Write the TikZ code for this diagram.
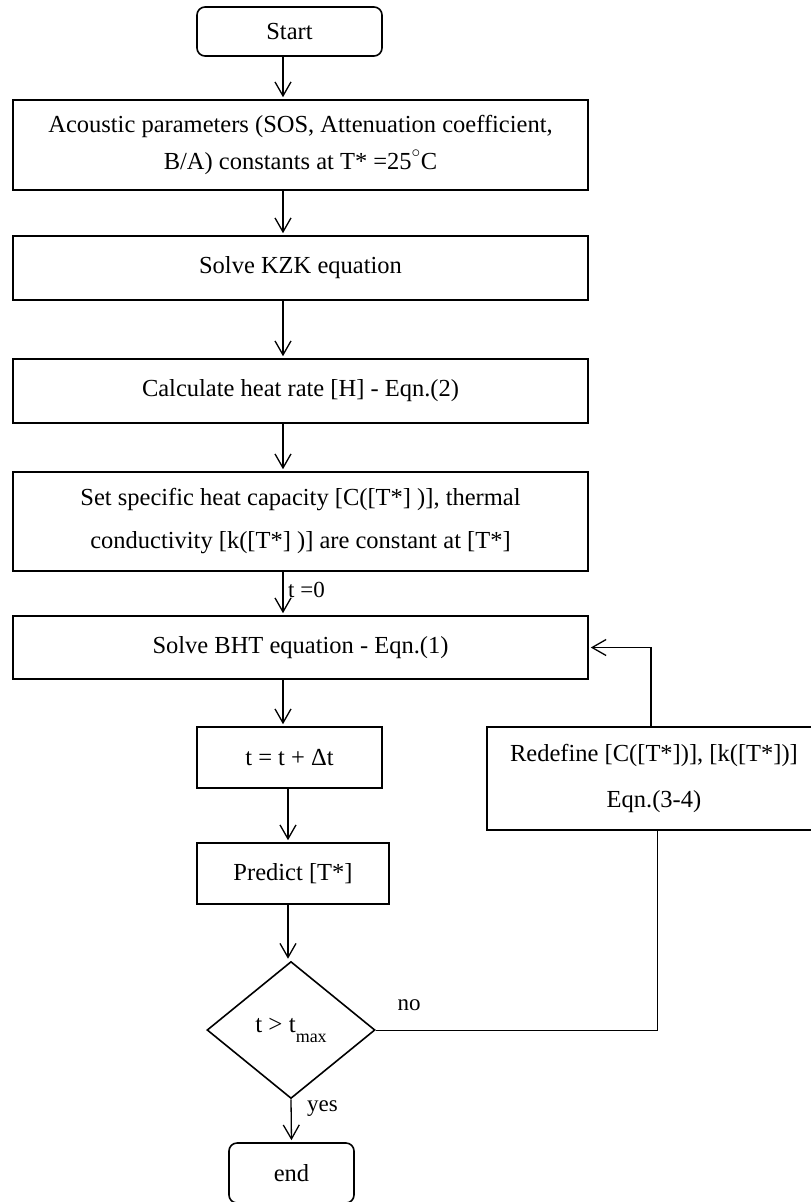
\documentclass[tikz,border=0pt]{standalone}
\usepackage{fontspec}
\setmainfont{Liberation Serif}
\usetikzlibrary{shapes.geometric,arrows.meta}

\begin{document}
\begin{tikzpicture}[x=1pt, y=-1pt,
    box/.style={draw, line width=1.6pt, align=center, inner sep=0pt, font=\fontsize{24.5}{37}\selectfont},
    term/.style={box, rounded corners=8pt},
    cond/.style={draw, diamond, line width=1.6pt, inner sep=0pt, minimum width=168pt, minimum height=137pt, font=\fontsize{25}{30}\selectfont},
    arr/.style={line width=1.3pt, -{Straight Barb[length=14pt,width=16pt]}, shorten >=2pt},
    lbl/.style={inner sep=0pt, font=\fontsize{23}{28}\selectfont}]
    \useasboundingbox (0,0) rectangle (811,1202);
    \coordinate (col) at (283,0);
    \coordinate (col2) at (288,0);

    \node[term, minimum width=185pt, minimum height=49pt] (start) at (289.5,31.5) {Start};
    \node[box, minimum width=575pt, minimum height=90pt] (acoustic) at (300.5,145)
        {Acoustic parameters (SOS, Attenuation coefficient,\\ B/A) constants at T* =25\raisebox{3pt}{$^{\circ}$}C};
    \node[box, minimum width=575pt, minimum height=64pt] (kzk) at (300.5,268) {Solve KZK equation};
    \node[box, minimum width=575pt, minimum height=64pt] (heat) at (300.5,391) {Calculate heat rate [H] - Eqn.(2)};
    \node[box, minimum width=575pt, minimum height=99pt] (capacity) at (300.5,521.5)
        {Set specific heat capacity [C([T*] )], thermal\\[6pt] conductivity [k([T*] )] are constant at [T*]};
    \node[box, minimum width=575pt, minimum height=63pt] (bht) at (300.5,647.5) {Solve BHT equation - Eqn.(1)};
    \node[box, minimum width=185pt, minimum height=61pt] (incr) at (289.5,757.5) {t = t + Δt};
    \node[box, minimum width=192pt, minimum height=61pt] (predict) at (293,873.5) {Predict [T*]};
    \node[cond] (check) at (291,1030) {t > t\raisebox{-10pt}{\fontsize{18}{18}\selectfont max}};
    \node[term, minimum width=125pt, minimum height=60pt] (end) at (291.5,1173) {end};
    \node[box, minimum width=334pt, minimum height=103pt] (redefine) at (654,778.5)
        {Redefine [C([T*])], [k([T*])]\\[9pt] Eqn.(3-4)};

    % main column
    \draw[arr] (start.south -| col) -- (acoustic.north -| col);
    \draw[arr] (acoustic.south -| col) -- (kzk.north -| col);
    \draw[arr] (kzk.south -| col) -- (heat.north -| col);
    \draw[arr] (heat.south -| col) -- (capacity.north -| col);
    \draw[arr] (capacity.south -| col) -- (bht.north -| col);
    \draw[arr] (bht.south -| col) -- (incr.north -| col);
    \draw[arr] (incr.south -| col2) -- (predict.north -| col2);
    \draw[arr] (predict.south -| col2) -- (check.north -| col2);
    \draw[arr] (check.south) -- (end.north);
    \node[lbl, anchor=west] (tzero) at (288,590) {t =0};
    \node[lbl] (yes) at (322.5,1109) {yes};

    % loop back
    \draw[line width=1pt] (check.east) -| ([xshift=3pt]redefine.south);
    \node[lbl] (no) at (409,1005) {no};
    \draw[arr] ([xshift=-3pt]redefine.north) |- (bht.east);
\end{tikzpicture}
\end{document}
